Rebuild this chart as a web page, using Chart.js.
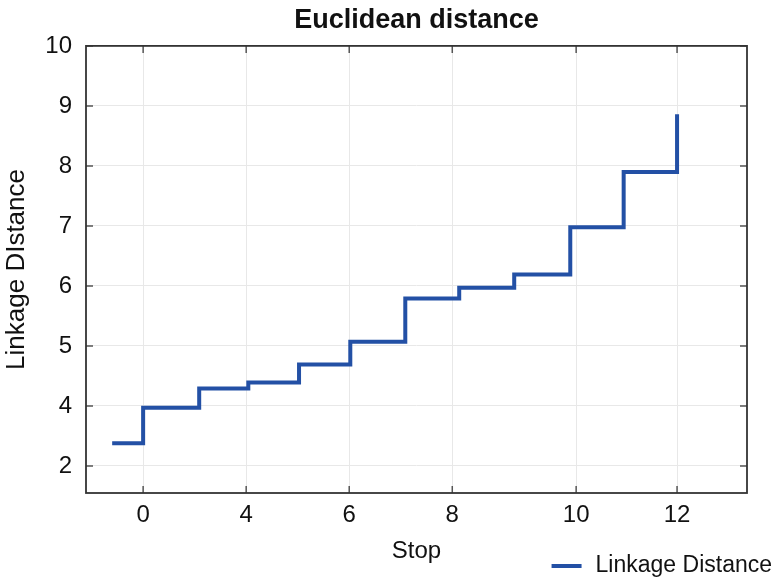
<!DOCTYPE html>
<html>
<head>
<meta charset="utf-8">
<title>Euclidean distance</title>
<script src="https://cdn.jsdelivr.net/npm/chart.js@4.4.0/dist/chart.umd.min.js"></script>
<style>
  body { margin: 0; background: #fff; }
</style>
</head>
<body>
<canvas id="linkageChart" width="777" height="580"></canvas>
<script>
// step positions (in steps) and linkage distance after each merge
const stops = [-0.58, 0, 1.05, 1.97, 2.92, 3.88, 4.91, 5.92, 6.95, 8.0, 9.0, 10.0];
const distances = [3.38, 3.97, 4.29, 4.39, 4.69, 5.07, 5.79, 5.97, 6.19, 6.98, 7.90, 8.86];

// axis ticks as printed on the figure
const xTickValues = [0, 1.93, 3.86, 5.79, 8.11, 10];
const xTickLabels = ['0', '4', '6', '8', '10', '12'];
const yTickValues = [3, 4, 5, 6, 7, 8, 9, 10];
const yTickLabels = ['2', '4', '5', '6', '7', '8', '9', '10'];

const lineColor = '#2350a5';
const inkColor = '#111';

Chart.defaults.font.family = '"Liberation Sans", Arial, sans-serif';
Chart.defaults.color = inkColor;

// box round the plot with small inward tick marks
const framePlugin = {
    id: 'frame',
    afterDatasetsDraw(chart) {
        const { ctx, chartArea: a, scales: { x, y } } = chart;
        ctx.save();
        ctx.strokeStyle = '#555';
        ctx.lineWidth = 1.5;
        ctx.beginPath();
        x.ticks.forEach(t => {
            const px = x.getPixelForValue(t.value);
            ctx.moveTo(px, a.top); ctx.lineTo(px, a.top + 7);
            ctx.moveTo(px, a.bottom); ctx.lineTo(px, a.bottom - 7);
        });
        y.ticks.forEach(t => {
            const py = y.getPixelForValue(t.value);
            ctx.moveTo(a.left, py); ctx.lineTo(a.left + 7, py);
            ctx.moveTo(a.right, py); ctx.lineTo(a.right - 7, py);
        });
        ctx.stroke();
        ctx.strokeStyle = '#333';
        ctx.lineWidth = 1.8;
        ctx.strokeRect(a.left, a.top, a.right - a.left, a.bottom - a.top);
        ctx.restore();
    }
};

// legend sits in the bottom right corner, next to the x title
const cornerLegend = {
    id: 'cornerLegend',
    afterDraw(chart) {
        const { ctx } = chart;
        const ds = chart.data.datasets[0];
        ctx.save();
        ctx.font = '23px "Liberation Sans", Arial, sans-serif';
        ctx.textBaseline = 'middle';
        const tw = ctx.measureText(ds.label).width;
        const tx = chart.width - 5 - tw;
        const ty = chart.height - 14;
        ctx.strokeStyle = ds.borderColor;
        ctx.lineWidth = ds.borderWidth;
        ctx.beginPath();
        ctx.moveTo(tx - 44, ty);
        ctx.lineTo(tx - 14, ty);
        ctx.stroke();
        ctx.fillStyle = inkColor;
        ctx.fillText(ds.label, tx, ty);
        ctx.restore();
    }
};

const ctx = document.getElementById('linkageChart').getContext('2d');
new Chart(ctx, {
    type: 'line',
    data: {
        datasets: [{
            label: 'Linkage Distance',
            data: stops.map((s, i) => ({ x: s, y: distances[i] })),
            borderColor: lineColor,
            borderWidth: 4,
            stepped: true,
            pointRadius: 0,
            fill: false
        }]
    },
    options: {
        responsive: false,
        animation: false,
        devicePixelRatio: 1,
        layout: { padding: { left: 0, right: 30, top: 0, bottom: 0 } },
        plugins: {
            legend: { display: false },
            tooltip: { enabled: false },
            title: {
                display: true,
                fullSize: false,
                text: 'Euclidean distance',
                color: '#111',
                font: { size: 27, weight: 'bold' },
                padding: { top: 4, bottom: 9.5 }
            }
        },
        scales: {
            x: {
                type: 'linear',
                min: -1.07,
                max: 11.31,
                afterBuildTicks: s => { s.ticks = xTickValues.map(v => ({ value: v })); },
                afterFit: s => { s.height = 87; },
                grid: { color: '#e8e8e8', drawTicks: false },
                border: { display: false },
                ticks: {
                    padding: 7.5,
                    autoSkip: false,
                    maxRotation: 0,
                    font: { size: 24 },
                    callback: (v, i) => xTickLabels[i]
                },
                title: { display: true, text: 'Stop', font: { size: 24 }, padding: { top: 9, bottom: 14.5 } }
            },
            y: {
                type: 'linear',
                min: 2.55,
                max: 10,
                afterBuildTicks: s => { s.ticks = yTickValues.map(v => ({ value: v })); },
                afterFit: s => { s.width = 86; },
                grid: { color: '#e8e8e8', drawTicks: false },
                border: { display: false },
                ticks: {
                    padding: 14,
                    autoSkip: false,
                    font: { size: 24 },
                    callback: (v, i) => yTickLabels[i]
                },
                title: { display: true, text: 'Linkage DIstance', font: { size: 26 }, padding: { top: 1.5, bottom: 0 } }
            }
        }
    },
    plugins: [framePlugin, cornerLegend]
});
</script>
</body>
</html>
